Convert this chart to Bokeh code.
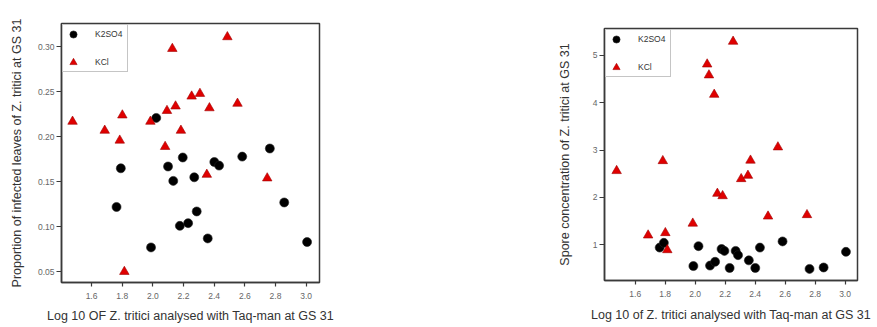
from bokeh.plotting import figure
from bokeh.layouts import row, column
from bokeh.models import FixedTicker, NumeralTickFormatter, Legend, LegendItem, Spacer
from bokeh.embed import file_html
from bokeh.resources import INLINE

# ---- data ----
k2so4_x = [1.763, 1.791, 1.988, 2.022, 2.099, 2.133, 2.176, 2.195, 2.230,
           2.270, 2.286, 2.358, 2.401, 2.432, 2.583, 2.763, 2.857, 3.006]
k2so4_prop = [0.122, 0.165, 0.077, 0.221, 0.167, 0.151, 0.101, 0.177, 0.104,
              0.155, 0.117, 0.087, 0.172, 0.168, 0.178, 0.187, 0.127, 0.083]
k2so4_spore = [0.94, 1.04, 0.55, 0.97, 0.56, 0.64, 0.91, 0.87, 0.51,
               0.87, 0.78, 0.67, 0.51, 0.94, 1.07, 0.49, 0.52, 0.85]

kcl_x = [1.476, 1.686, 1.784, 1.801, 1.814, 1.984, 2.080, 2.092, 2.127,
         2.148, 2.183, 2.253, 2.307, 2.352, 2.369, 2.486, 2.552, 2.746]
kcl_prop = [0.217, 0.207, 0.196, 0.224, 0.050, 0.217, 0.189, 0.229, 0.298,
            0.234, 0.207, 0.245, 0.248, 0.158, 0.232, 0.311, 0.237, 0.154]
kcl_spore = [2.56, 1.20, 2.77, 1.25, 0.89, 1.45, 4.81, 4.58, 4.17,
             2.08, 2.03, 5.29, 2.39, 2.46, 2.78, 1.60, 3.06, 1.63]

x_ticks = [1.6, 1.8, 2.0, 2.2, 2.4, 2.6, 2.8, 3.0]
prop_ticks = [0.05, 0.10, 0.15, 0.20, 0.25, 0.30]
spore_ticks = [1, 2, 3, 4, 5]

series_names = ["K2SO4", "KCl"]

FONT = "Liberation Sans"
BORDER_TOP = 23
BORDER_BOTTOM = 44


def make_fig(width, height, border_left, border_right,
             xr, yr, y_vals_a, y_vals_b, yticks, yfmt, xlabel, ylabel,
             ylabel_standoff, xlabel_standoff):
    p = figure(width=width, height=height, x_range=xr, y_range=yr,
               output_backend="svg", toolbar_location=None,
               min_border_left=border_left, min_border_right=border_right,
               min_border_top=BORDER_TOP, min_border_bottom=BORDER_BOTTOM)
    p.grid.visible = False
    p.background_fill_color = "white"
    p.border_fill_color = "white"
    p.outline_line_color = "#3a3a3a"
    p.outline_line_width = 1.5

    r1 = p.scatter(k2so4_x, y_vals_a, marker="circle", size=9,
                   fill_color="black", line_color="#222222", line_width=0.6)
    r2 = p.scatter(kcl_x, y_vals_b, marker="triangle", size=9.5,
                   fill_color="#e00000", line_color="#a00000", line_width=0.6)

    for ax in (p.xaxis, p.yaxis):
        ax.minor_tick_line_color = None
        ax.major_tick_in = 0
        ax.major_tick_out = 5
        ax.major_tick_line_color = "#3a3a3a"
        ax.major_tick_line_width = 1.2
        ax.axis_line_color = "#3a3a3a"
        ax.axis_line_width = 1.5
        ax.major_label_text_font = FONT
        ax.major_label_text_font_size = "8.5px"
        ax.major_label_text_color = "#666666"
        ax.axis_label_text_font = FONT
        ax.axis_label_text_font_size = "12.5px"
        ax.axis_label_text_font_style = "normal"
        ax.axis_label_text_color = "#333333"

    p.xaxis.ticker = FixedTicker(ticks=x_ticks)
    p.xaxis.formatter = NumeralTickFormatter(format="0.0")
    p.xaxis.major_tick_out = 4
    p.xaxis.major_label_standoff = 6
    p.xaxis.axis_label = xlabel
    p.xaxis.axis_label_standoff = xlabel_standoff

    p.yaxis.ticker = FixedTicker(ticks=yticks)
    p.yaxis.formatter = NumeralTickFormatter(format=yfmt)
    p.yaxis.major_label_standoff = 2
    p.yaxis.axis_label = ylabel
    p.yaxis.axis_label_standoff = ylabel_standoff

    legend = Legend(
        items=[LegendItem(label=series_names[0], renderers=[r1]),
               LegendItem(label=series_names[1], renderers=[r2])],
        location="top_left", margin=1, padding=0, spacing=10,
        glyph_width=20, glyph_height=18, label_height=18, label_width=32,
        label_standoff=12, border_line_color="#8c8c8c", border_line_width=1.5,
        label_text_font=FONT, label_text_font_size="8.5px",
        label_text_color="#333333", background_fill_color="white",
        background_fill_alpha=1.0)
    p.add_layout(legend)
    return p


# left panel: frame 61..319 x 23..282 ; right panel offset 5px down
p1 = make_fig(340, 326, 61, 21, (1.404, 3.087), (0.038, 0.326),
              k2so4_prop, kcl_prop, prop_ticks, "0.00",
              "Log 10 OF Z. tritici analysed with Taq-man at GS 31",
              "Proportion of infected leaves of Z. tritici at GS 31", 11, 7)

p2 = make_fig(537, 319, 264, 20, (1.395, 3.083), (0.245, 5.565),
              k2so4_spore, kcl_spore, spore_ticks, "0",
              "Log 10 of Z. tritici analysed with Taq-man at GS 31",
              "Spore concentration of Z. tritici at GS 31", 18, 8)

layout = row(p1, column(Spacer(width=537, height=5), p2))

open("out.html", "w").write(file_html(layout, INLINE))
